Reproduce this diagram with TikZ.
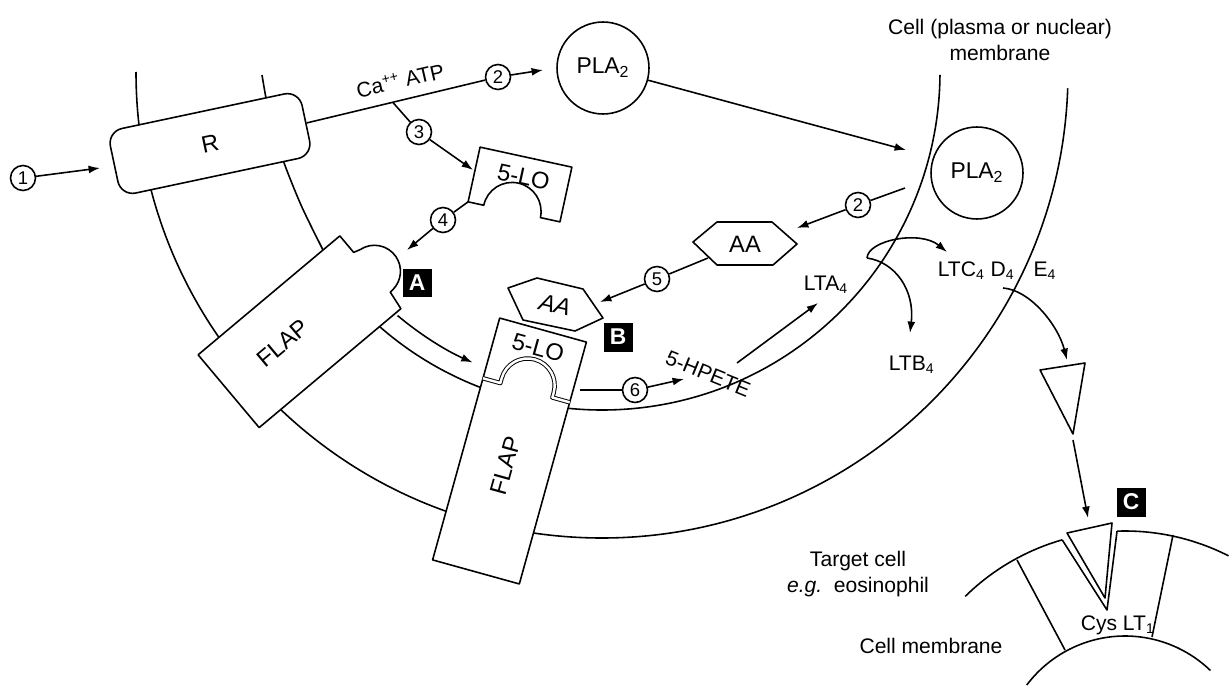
\documentclass[tikz,border=0pt]{standalone}
\usepackage{fontspec}
\setmainfont{Liberation Sans}
\usetikzlibrary{arrows.meta,calc}
\tikzset{
  arr/.style={-{Latex[length=6.5pt,width=4.5pt]}},
  numc/.style={circle,draw,fill=white,minimum size=0.5cm,inner sep=0pt,
    font=\fontsize{10.5}{11}\selectfont},
  plac/.style={circle,draw,minimum size=1.84cm,inner sep=0pt,
    font=\fontsize{13}{14}\selectfont},
  lbl/.style={font=\fontsize{12}{14.6}\selectfont,inner sep=0pt},
  big/.style={font=\fontsize{13.5}{15}\selectfont,inner sep=1pt},
  tag/.style={fill=black,text=white,minimum size=0.58cm,inner sep=0pt,
    font=\bfseries\fontsize{13}{13}\selectfont},
  wshape/.style={draw,fill=white},
}
\begin{document}
\begin{tikzpicture}[x=0.02cm,y=-0.02cm,line width=0.9pt,line join=round]
\useasboundingbox (0,0) rectangle (1230,686);

% cell membrane, outer and inner boundary
\coordinate (ctr) at (602,72);
\draw ($(ctr)+(180:466)$) arc[start angle=180,end angle=2,radius=466];
\draw plot[smooth] coordinates {(262,75) (270,118) (283,160) (301,205) (322,248) (343,289)};
\draw ($(ctr)+(140:338)$) arc[start angle=140,end angle=0.5,radius=338];
\node[lbl,align=center] (memlbl) at (1000,40) {Cell (plasma or nuclear)\\membrane};

% receptor R
\node[draw,fill=white,rounded corners=0.3cm,minimum width=3.92cm,
  minimum height=1.32cm,rotate=12,big] (rbox) at (210,143.5) {R};
\node[numc] (n1) at (23,178) {1};
\coordinate (r-in) at (100,168);
\draw[arr] (n1) -- (r-in);

% PLA2, outside and in the membrane
\node[plac,fill=white] (plaA) at (603,68) {PLA\textsubscript{2}};
\node[plac] (plaB) at (977,173) {PLA\textsubscript{2}};
\node[numc] (n2a) at (498,77) {2};
\draw (rbox.east) -- (n2a);
\node[lbl,anchor=base,rotate=13] (ca) at (402,88) {Ca\textsuperscript{++} ATP};
\coordinate (plaA-in) at (543,70);
\draw[arr] (n2a) -- (plaA-in);
\coordinate (plaB-in) at (906,150);
\draw[arr] (plaA) -- (plaB-in);

% free 5-LO
\begin{scope}[shift={(520,184.5)},rotate=-12.3]
  \draw[wshape] (-47,-28) -- (47,-28) -- (47,28) -- (27,28)
    arc[start angle=0,end angle=-180,radius=29] -- (-47,28) -- cycle;
  \node[big,transform shape] (lofree) at (2,-8) {5-LO};
  \coordinate (lofree-bl) at (-47,28);
\end{scope}
\coordinate (b3) at ($(rbox.east)!0.45!(n2a)$);
\node[numc] (n3) at (419,132) {3};
\coordinate (lofree-in) at (473,170);
\draw (b3) -- (n3);
\draw[arr] (n3) -- (lofree-in);
\node[numc] (n4) at (443,220) {4};
\coordinate (flapA-in) at (407,250);
\draw (lofree-bl) -- (n4);
\draw[arr] (n4) -- (flapA-in);

% FLAP with its pocket
\begin{scope}[shift={(299.5,331.75)},rotate=40]
  \draw[wshape] (-92.5,-47.5) -- (92.5,-47.5) -- (92.5,-26) -- (99,-24)
    arc[start angle=-84,end angle=84,radius=26] -- (95,28) -- (92.5,47.5)
    -- (-92.5,47.5) -- cycle;
  \node[big,transform shape] (flapA) at (-20,-2) {FLAP};
\end{scope}
\node[tag] (tagA) at (417,283) {A};
\coordinate (flapA-out) at ($(ctr)+(130:318)$);
\draw[arr] (flapA-out) arc[start angle=130,end angle=114,radius=318];

% FLAP holding 5-LO
\begin{scope}[shift={(509.5,451)},rotate=-15.5]
  \draw[wshape] (-45,-125.5) rectangle (45,125.5);
  \draw[double,double distance=1.4pt,line width=0.55pt] (-45,-63) -- (-27,-63) -- (-27,-68)
    arc[start angle=180,end angle=360,radius=27] -- (27,-63) -- (45,-63);
  \node[big,transform shape] (lo) at (0,-107) {5-LO};
  \node[big,transform shape,rotate=90] (flapB) at (0,15) {FLAP};
\end{scope}

% arachidonic acid
\draw[wshape] (693,242) -- (717,222) -- (772,222) -- (797,244) -- (773,265) -- (717,265) -- cycle;
\node[big] (aa1) at (745,244) {AA};
\draw[wshape] (508,288) -- (537,278) -- (583,289) -- (603,318) -- (575,331) -- (523,320) -- cycle;
\node[big,rotate=-13] (aa2) at (555,305) {\textit{AA}};
\node[tag] (tagB) at (618,337) {B};

\coordinate (plaB-out) at (905,188);
\node[numc] (n2b) at (858,205) {2};
\coordinate (aa1-in) at (797,228);
\draw (plaB-out) -- (n2b);
\draw[arr] (n2b) -- (aa1-in);

\coordinate (aa1-out) at (708,258);
\node[numc] (n5) at (657,279) {5};
\coordinate (aa2-in) at (600,302);
\draw (aa1-out) -- (n5);
\draw[arr] (n5) -- (aa2-in);

\coordinate (fl-out) at (580,390);
\node[numc] (n6) at (635,390) {6};
\node[lbl,rotate=-22] (hpete) at (708,374) {5-HPETE};
\coordinate (hpete-in) at (684,379);
\draw (fl-out) -- (n6);
\draw[arr] (n6) -- (hpete-in);

% leukotrienes
\node[lbl,anchor=base west] (lta) at (803,290) {LTA\textsubscript{4}};
\coordinate (hpete-out) at (737,363);
\coordinate (lta-in) at (818,303);
\draw[arr] (hpete-out) -- (lta-in);
\node[lbl,anchor=base west] (ltc) at (937,276) {LTC\textsubscript{4} D\textsubscript{4}\hspace{0.9em}E\textsubscript{4}};
\node[lbl,anchor=base west] (ltb) at (888,370) {LTB\textsubscript{4}};
\coordinate (hook) at (867,258);
\coordinate (ltc-in) at (947,252);
\coordinate (ltb-in) at (910,333);
\draw[arr] (hook) .. controls (868,240) and (920,230) .. (ltc-in);
\draw[arr] (hook) .. controls (895,262) and (915,290) .. (ltb-in);

\coordinate (ltc-out) at (1003,288);
\coordinate (lig-in) at (1067,360);
\draw[arr] (ltc-out) .. controls (1030,290) and (1058,325) .. (lig-in);
\draw (1040,370) -- (1085,363) -- (1073,434) -- cycle;
\coordinate (lig-out) at (1073,440);
\coordinate (cys-in) at (1088,518);
\draw[arr] (lig-out) -- (cys-in);

% target cell
\coordinate (tc) at (1125,759);
\draw ($(tc)+(-134.5:228)$) arc[start angle=-134.5,end angle=-106,radius=228];
\draw ($(tc)+(-92:228)$) arc[start angle=-92,end angle=-63,radius=228];
\draw ($(tc)+(-143:123)$) arc[start angle=-143,end angle=-46,radius=123];
\draw (1017,560) -- (1065,650);
\draw (1173,535) -- (1152,637);
\draw ($(tc)+(-106:228)$) -- (1107,610) -- ($(tc)+(-92:228)$);
\draw[fill=white] (1067,533) -- (1112,523) -- (1105,598) -- cycle;
\node[lbl,anchor=base west] (cys) at (1080,630) {Cys LT\textsubscript{1}};
\node[tag] (tagC) at (1131,502) {C};
\node[lbl,align=center] (tgt) at (858,574) {Target cell\\\textit{e.g.}\ \ eosinophil};
\node[lbl,anchor=base] (cmem) at (931,653) {Cell membrane};
\end{tikzpicture}
\end{document}
